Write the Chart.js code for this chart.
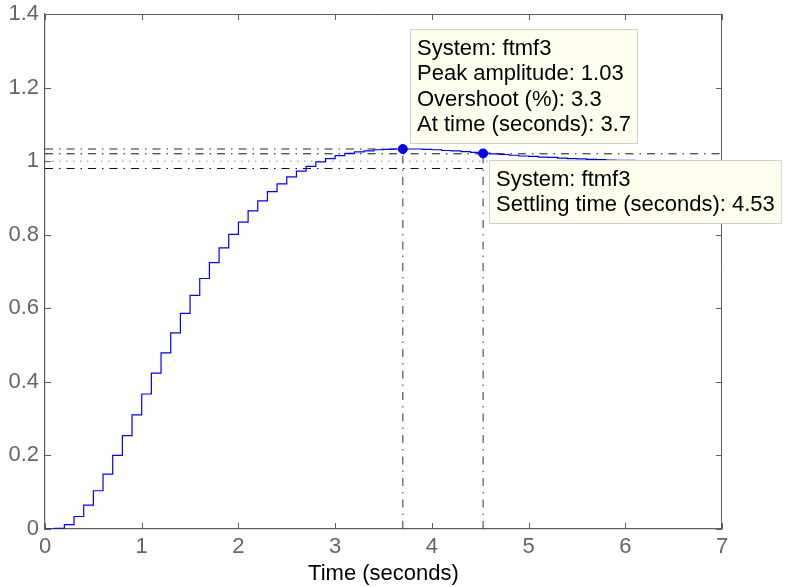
<!DOCTYPE html>
<html>
<head>
<meta charset="utf-8">
<script src="https://cdn.jsdelivr.net/npm/chart.js@4.4.0/dist/chart.umd.min.js"></script>
<style>body{margin:0;background:#fff}</style>
</head>
<body>
<canvas id="myChart" width="786" height="587"></canvas>
<script>
// step response samples (dt = 0.1 s)
const time = [0.0,0.1,0.2,0.3,0.4,0.5,0.6,0.7,0.8,0.9,
  1.0,1.1,1.2,1.3,1.4,1.5,1.6,1.7,1.8,1.9,
  2.0,2.1,2.2,2.3,2.4,2.5,2.6,2.7,2.8,2.9,
  3.0,3.1,3.2,3.3,3.4,3.5,3.6,3.7,3.8,3.9,
  4.0,4.1,4.2,4.3,4.4,4.5,4.6,4.7,4.8,4.9,
  5.0,5.1,5.2,5.3,5.4,5.5,5.6,5.7,5.8,5.9,
  6.0,6.1,6.2,6.3,6.4,6.5,6.6,6.7,6.8,6.9,7.0];
const response = [0,0.002,0.012,0.034,0.065,0.104,0.149,0.200,0.254,0.310,
  0.367,0.424,0.479,0.533,0.586,0.635,0.681,0.724,0.764,0.801,
  0.834,0.865,0.892,0.917,0.938,0.957,0.973,0.986,0.998,1.007,
  1.015,1.021,1.025,1.028,1.031,1.032,1.033,1.033,1.033,1.032,
  1.031,1.029,1.028,1.026,1.024,1.022,1.020,1.018,1.016,1.014,
  1.013,1.011,1.010,1.008,1.007,1.006,1.005,1.004,1.003,1.002,
  1.002,1.001,1.001,1.000,1.000,1.000,1.000,1.000,1.000,1.000,1.000];

const xTicks = [0,1,2,3,4,5,6,7];
const yTicks = [0,0.2,0.4,0.6,0.8,1,1.2,1.4];

const peakTime = 3.7, peakValue = 1.033;
const settleTime = 4.53, settleValue = 1.021;
const finalValue = 1.0, bandHigh = 1.02, bandLow = 0.98;

const peakTip = ['System: ftmf3', 'Peak amplitude: 1.03', 'Overshoot (%): 3.3', 'At time (seconds): 3.7'];
const settleTip = ['System: ftmf3', 'Settling time (seconds): 4.53'];

const FONT = '"Liberation Sans", Arial, Helvetica, sans-serif';
const AXIS = '#5e5e5e';
const dashDot = [8, 6, 1.5, 6];

function seg(x0, y0, x1, y1) { return [{x: x0, y: y0}, {x: x1, y: y1}]; }

// inward ticks + top/right frame, like the matlab axes box
const framePlugin = {
  id: 'frame',
  afterDraw(chart) {
    const c = chart.ctx, a = chart.chartArea;
    const xs = chart.scales.x, ys = chart.scales.y;
    c.save();
    c.strokeStyle = AXIS;
    c.lineWidth = 1;
    c.beginPath();
    c.moveTo(a.left, a.top + 0.5); c.lineTo(a.right, a.top + 0.5);
    c.moveTo(a.right - 0.5, a.top); c.lineTo(a.right - 0.5, a.bottom);
    xTicks.forEach(v => {
      const px = Math.round(xs.getPixelForValue(v)) + 0.5;
      c.moveTo(px, a.bottom); c.lineTo(px, a.bottom - 6);
      c.moveTo(px, a.top); c.lineTo(px, a.top + 6);
    });
    yTicks.forEach(v => {
      const py = Math.round(ys.getPixelForValue(v)) + 0.5;
      c.moveTo(a.left, py); c.lineTo(a.left + 6, py);
      c.moveTo(a.right, py); c.lineTo(a.right - 6, py);
    });
    c.stroke();
    c.restore();
  }
};

// the two data tips
const tipPlugin = {
  id: 'tips',
  afterDraw(chart) {
    const c = chart.ctx;
    const xs = chart.scales.x, ys = chart.scales.y;
    const lh = 25.5;
    function box(lines, left, top) {
      c.font = '22px ' + FONT;
      const w = Math.max(...lines.map(l => c.measureText(l).width)) + 13;
      const h = lines.length * lh + 12;
      c.fillStyle = '#ffffee';
      c.fillRect(left, top, w, h);
      c.strokeStyle = '#d0d0c8';
      c.lineWidth = 1;
      c.strokeRect(left + 0.5, top + 0.5, w, h);
      c.fillStyle = '#000';
      c.textBaseline = 'middle';
      c.textAlign = 'left';
      lines.forEach((l, i) => c.fillText(l, left + 7, top + 19.5 + i * lh));
    }
    c.save();
    const p1x = xs.getPixelForValue(peakTime), p1y = ys.getPixelForValue(peakValue);
    box(peakTip, Math.round(p1x + 7), Math.round(p1y - 6 - (peakTip.length * lh + 12)));
    const p2x = xs.getPixelForValue(settleTime), p2y = ys.getPixelForValue(settleValue);
    box(settleTip, Math.round(p2x + 6), Math.round(p2y + 7));
    c.restore();
  }
};

const ctx = document.getElementById('myChart').getContext('2d');
const myChart = new Chart(ctx, {
  type: 'scatter',
  data: {
    datasets: [
      {
        data: [{x: peakTime, y: peakValue}, {x: settleTime, y: settleValue}],
        pointRadius: 4.5, pointBackgroundColor: '#0000ff', pointBorderColor: '#0000ff',
        showLine: false, clip: false
      },
      {
        data: time.map((t, i) => ({x: t, y: response[i]})),
        showLine: true, stepped: true, borderColor: '#0000ff', borderWidth: 1.2,
        pointRadius: 0
      },
      {
        data: seg(0, peakValue, peakTime, peakValue),
        showLine: true, borderColor: '#707070', borderWidth: 1.4, borderDash: dashDot, pointRadius: 0
      },
      {
        data: seg(peakTime, 0, peakTime, peakValue),
        showLine: true, borderColor: '#333', borderWidth: 1, borderDash: dashDot, pointRadius: 0
      },
      {
        data: seg(settleTime, 0, settleTime, settleValue),
        showLine: true, borderColor: '#333', borderWidth: 1, borderDash: dashDot, pointRadius: 0
      },
      {
        data: seg(0, bandHigh, 7, bandHigh),
        showLine: true, borderColor: '#111', borderWidth: 1, borderDash: dashDot, pointRadius: 0
      },
      {
        data: seg(0, bandLow, 7, bandLow),
        showLine: true, borderColor: '#111', borderWidth: 1, borderDash: dashDot, pointRadius: 0
      },
      {
        data: seg(0, finalValue, 7, finalValue),
        showLine: true, borderColor: '#888', borderWidth: 1, borderDash: [1.5, 5.5], pointRadius: 0
      }
    ]
  },
  options: {
    responsive: false,
    animation: false,
    layout: { padding: { left: 0, right: 64, top: 14, bottom: 0 } },
    plugins: {
      legend: { display: false },
      tooltip: { enabled: false },
      title: { display: false }
    },
    scales: {
      x: {
        type: 'linear', min: 0, max: 7,
        afterBuildTicks: s => { s.ticks = xTicks.map(v => ({value: v})); },
        afterFit: s => { s.height = 58; s.paddingLeft = 0; s.paddingRight = 0; },
        grid: { display: false, drawTicks: false },
        border: { display: true, color: AXIS, width: 1.2 },
        ticks: { color: '#666', padding: 5, font: { family: FONT, size: 22 },
                 callback: v => String(v) },
        title: { display: true, text: 'Time (seconds)', color: '#000',
                 padding: { top: 0, bottom: 0 }, font: { family: FONT, size: 22 } }
      },
      y: {
        type: 'linear', min: 0, max: 1.4,
        afterBuildTicks: s => { s.ticks = yTicks.map(v => ({value: v})); },
        afterFit: s => { s.width = 45; s.paddingTop = 0; s.paddingBottom = 0; },
        grid: { display: false, drawTicks: false },
        border: { display: true, color: AXIS, width: 1.2 },
        ticks: { color: '#666', padding: 6, font: { family: FONT, size: 22 },
                 callback: v => String(+v.toFixed(1)) }
      }
    }
  },
  plugins: [framePlugin, tipPlugin]
});
</script>
</body>
</html>
